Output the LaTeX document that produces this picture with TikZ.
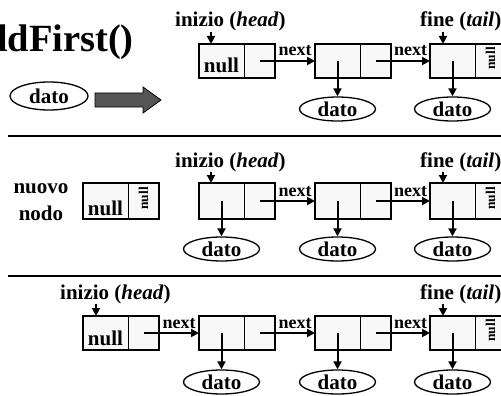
\documentclass[tikz,border=0pt]{standalone}
\usepackage{fontspec}
\setmainfont{Liberation Serif}
\usetikzlibrary{arrows.meta,shapes.geometric,calc}

\definecolor{cellfill}{RGB}{248,248,248}
\definecolor{blockgray}{RGB}{85,85,85}

% font sizes (1pt = 1 unit of the drawing grid)
\newcommand{\lblf}{\fontsize{21}{25}\selectfont\bfseries}
\newcommand{\nuovof}{\fontsize{21}{27}\selectfont\bfseries}
\newcommand{\nextf}{\fontsize{18}{20}\selectfont\bfseries}
\newcommand{\vnullf}{\fontsize{13.5}{15}\selectfont\bfseries}
\newcommand{\titlef}{\fontsize{38.5}{44}\selectfont\bfseries}

\tikzset{
  cell/.style={draw, line width=0.8pt, fill=cellfill, inner sep=0pt, outer sep=0pt},
  datacell/.style={cell, minimum width=45pt, anchor=north west},
  linkcell/.style={cell, minimum width=31pt, anchor=west},
  frame/.style={draw, line width=2pt},
  ptr/.style={line width=2pt, -{Triangle[length=8pt,width=8pt]}},
  datum/.style={ellipse, draw, line width=1.3pt, fill=white, minimum width=76pt,
    minimum height=24pt, inner sep=0pt, font=\lblf},
  lbl/.style={font=\lblf, inner sep=0pt},
  nextlbl/.style={font=\nextf, inner sep=0pt, anchor=base},
  cellnull/.style={font=\lblf, inner sep=0pt, anchor=base},
  vnull/.style={font=\vnullf, rotate=90, inner sep=0pt, anchor=east},
  sep/.style={line width=1.5pt},
}

% one list element: data cell + link cell with a heavy outline
% #1 name, #2 left x, #3 top y, #4 height
\newcommand{\cellpair}[4]{%
  \node[datacell, minimum height=#4pt] (#1-l) at (#2,#3) {};
  \node[linkcell, minimum height=#4pt] (#1-r) at (#1-l.east) {};
  \draw[frame] (#1-l.north west) rectangle (#1-r.south east);
}

\begin{document}
\begin{tikzpicture}[x=1pt, y=-1pt]
\useasboundingbox (0,0) rectangle (501,396);
\clip (0,0) rectangle (501,396);

% ---------- step 1: the list before insertion ----------
\node[lbl, font=\titlef, anchor=base east] (title) at (134,52) {addFirst()};
\node[datum, minimum width=78pt, minimum height=28pt] (d0) at (49,96) {dato};
\draw[fill=blockgray, line width=0.8pt]
  (95,93) -- (143,93) -- (143,87) -- (161,100) -- (143,113) -- (143,107) -- (95,107) -- cycle;

\cellpair{a1}{199}{44}{34}
\cellpair{b1}{315}{44}{34}
\cellpair{c1}{430}{44}{34}
\node[cellnull] (a1n) at ([yshift=5pt]a1-l.south) {null};
\node[vnull] (c1n) at ([yshift=-3pt]c1-r.north) {null};

\node[lbl, anchor=base west] (h1) at (175,27) {inizio (\textit{head})};
\node[lbl, anchor=base west] (t1) at (420,27) {fine (\textit{tail})};
\coordinate (h1p) at ([xshift=12pt]a1-l.north west);
\coordinate (t1p) at ([xshift=13pt]c1-l.north west);
\draw[ptr] (h1p |- h1.south) -- (h1p);
\draw[ptr] (t1p |- t1.south) -- (t1p);

\draw[ptr] (a1-r.center) -- (b1-l.west);
\draw[ptr] (b1-r.center) -- (c1-l.west);
\node[nextlbl] (x1a) at ($(a1-r.east)!0.5!(b1-l.west)+(0,-5)$) {next};
\node[nextlbl] (x1b) at ($(b1-r.east)!0.5!(c1-l.west)+(0,-5)$) {next};

\node[datum] (db1) at (b1-l.center |- 0,109) {dato};
\node[datum] (dc1) at (c1-l.center |- 0,109) {dato};
\draw[ptr] (b1-l.center) -- (db1.north);
\draw[ptr] (c1-l.center) -- (dc1.north);

\draw[sep] (8,136) -- (501,136);

% ---------- step 2: the new node is created ----------
\node[lbl, font=\nuovof, align=center] (nn) at (41,202) {nuovo\\nodo};
\cellpair{n2}{83}{183}{36}
\node[cellnull] (n2n) at ([yshift=4pt]n2-l.south) {null};
\node[vnull] (n2v) at ([yshift=-4pt]n2-r.north) {null};

\cellpair{a2}{199}{183}{36}
\cellpair{b2}{315}{183}{36}
\cellpair{c2}{430}{183}{36}
\node[vnull] (c2n) at ([yshift=-4pt]c2-r.north) {null};

\node[lbl, anchor=base west] (h2) at (175,167) {inizio (\textit{head})};
\node[lbl, anchor=base west] (t2) at (420,167) {fine (\textit{tail})};
\coordinate (h2p) at ([xshift=12pt]a2-l.north west);
\coordinate (t2p) at ([xshift=13pt]c2-l.north west);
\draw[ptr] (h2p |- h2.south) -- (h2p);
\draw[ptr] (t2p |- t2.south) -- (t2p);

\draw[ptr] (a2-r.center) -- (b2-l.west);
\draw[ptr] (b2-r.center) -- (c2-l.west);
\node[nextlbl] (x2a) at ($(a2-r.east)!0.5!(b2-l.west)+(0,-5)$) {next};
\node[nextlbl] (x2b) at ($(b2-r.east)!0.5!(c2-l.west)+(0,-5)$) {next};

\node[datum] (da2) at (a2-l.center |- 0,249) {dato};
\node[datum] (db2) at (b2-l.center |- 0,249) {dato};
\node[datum] (dc2) at (c2-l.center |- 0,249) {dato};
\draw[ptr] (a2-l.center) -- (da2.north);
\draw[ptr] (b2-l.center) -- (db2.north);
\draw[ptr] (c2-l.center) -- (dc2.north);

\draw[sep] (8,276) -- (501,276);

% ---------- step 3: the new node becomes the head ----------
\cellpair{n3}{83}{316}{34}
\cellpair{a3}{199}{316}{34}
\cellpair{b3}{315}{316}{34}
\cellpair{c3}{430}{316}{34}
\node[cellnull] (n3n) at ([yshift=5pt]n3-l.south) {null};
\node[vnull] (c3n) at ([yshift=-3pt]c3-r.north) {null};

\node[lbl, anchor=base west] (h3) at (60,299) {inizio (\textit{head})};
\node[lbl, anchor=base west] (t3) at (420,299) {fine (\textit{tail})};
\coordinate (h3p) at ([xshift=13pt]n3-l.north west);
\coordinate (t3p) at ([xshift=13pt]c3-l.north west);
\draw[ptr] (h3p |- h3.south) -- (h3p);
\draw[ptr] (t3p |- t3.south) -- (t3p);

\draw[ptr] (n3-r.center) -- (a3-l.west);
\draw[ptr] (a3-r.center) -- (b3-l.west);
\draw[ptr] (b3-r.center) -- (c3-l.west);
\node[nextlbl] (x3a) at ($(n3-r.east)!0.5!(a3-l.west)+(0,-5)$) {next};
\node[nextlbl] (x3b) at ($(a3-r.east)!0.5!(b3-l.west)+(0,-5)$) {next};
\node[nextlbl] (x3c) at ($(b3-r.east)!0.5!(c3-l.west)+(0,-5)$) {next};

\node[datum] (da3) at (a3-l.center |- 0,382) {dato};
\node[datum] (db3) at (b3-l.center |- 0,382) {dato};
\node[datum] (dc3) at (c3-l.center |- 0,382) {dato};
\draw[ptr] (a3-l.center) -- (da3.north);
\draw[ptr] (b3-l.center) -- (db3.north);
\draw[ptr] (c3-l.center) -- (dc3.north);
\end{tikzpicture}
\end{document}
